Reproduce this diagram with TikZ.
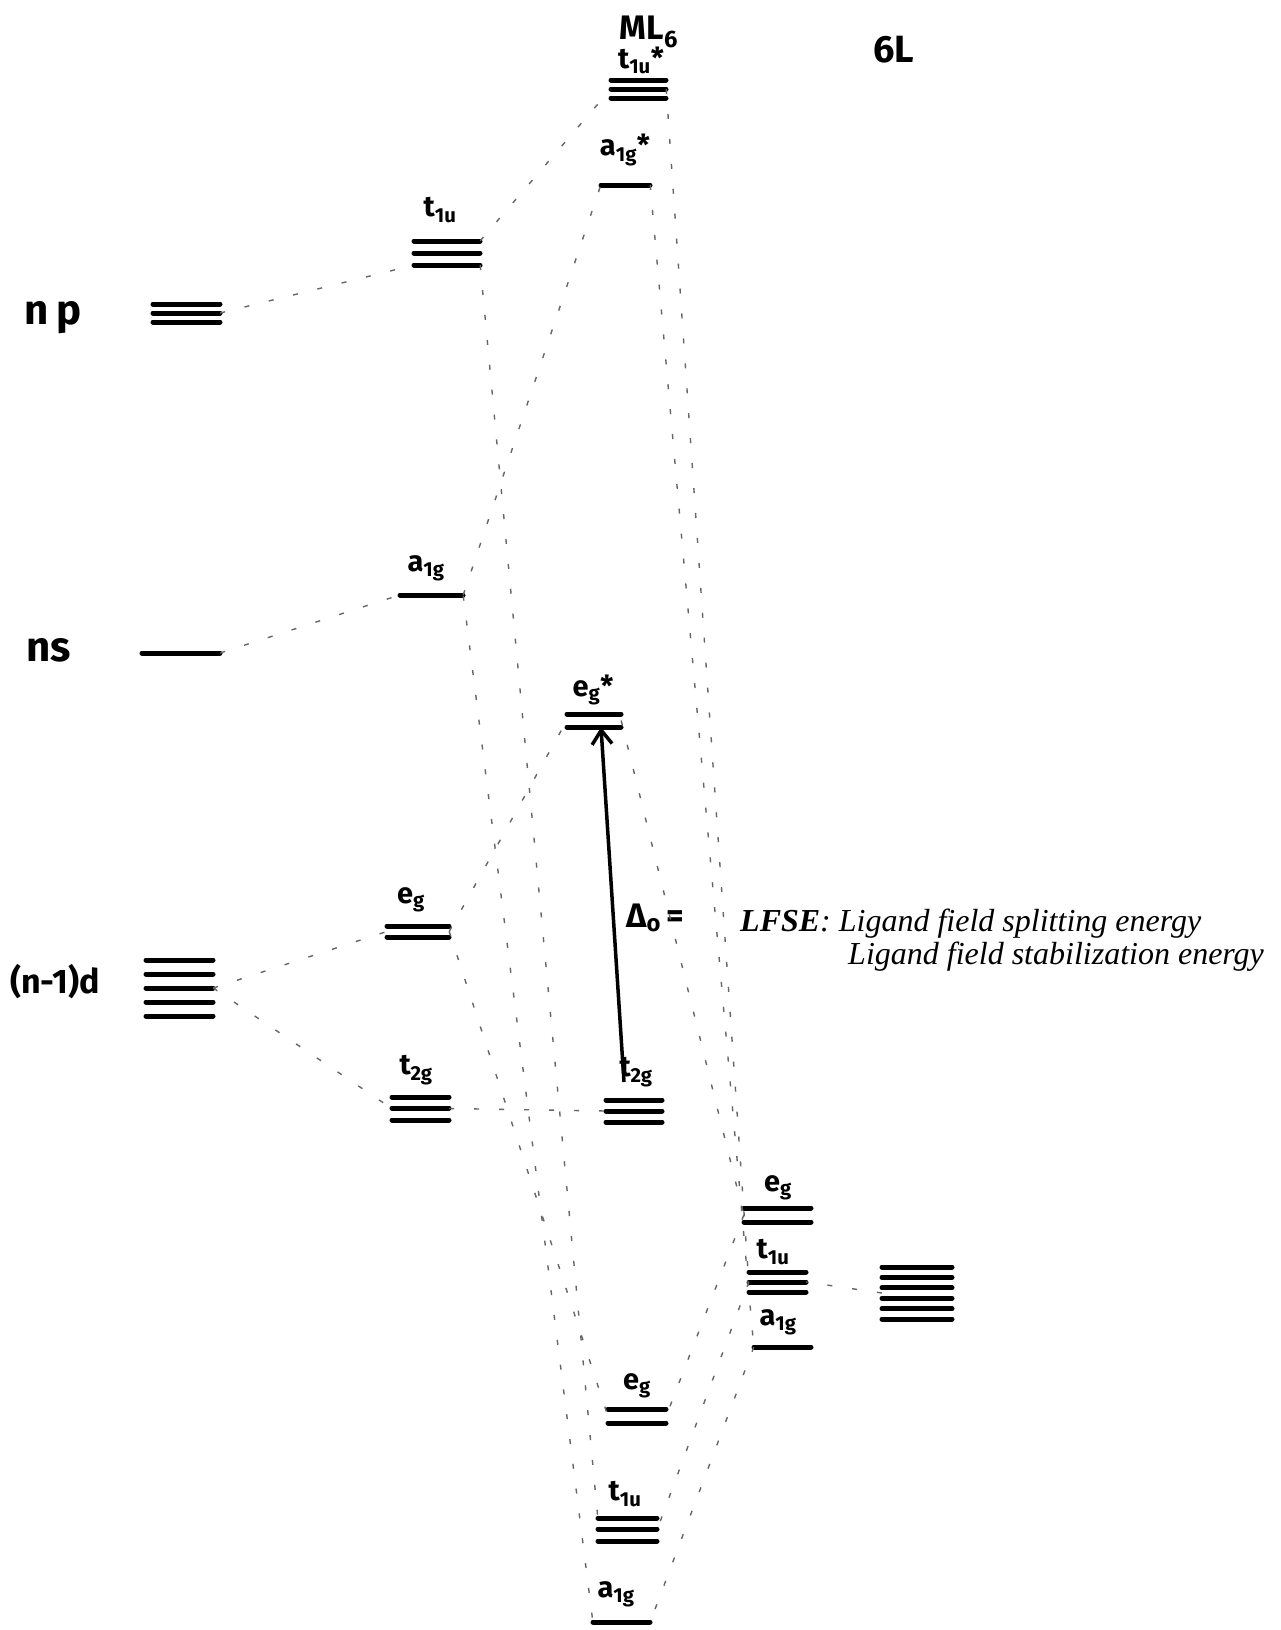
\documentclass[tikz,border=0pt]{standalone}
\usepackage{fontspec}
\setmainfont{Liberation Serif}
\newfontfamily\hand{Fira Sans}
\usetikzlibrary{arrows.meta,fit}
\tikzset{
  lvl/.style={line width=5pt, line cap=round},
  conn/.style={line width=1.4pt, black!60, dash pattern=on 5pt off 20pt},
  lab/.style={font=\hand\bfseries\fontsize{29}{31}\selectfont, inner sep=0pt},
  biglab/.style={font=\hand\bfseries\fontsize{38}{40}\selectfont, inner sep=0pt},
  grp/.style={inner sep=0pt},
  arr/.style={line width=3.5pt, -{Straight Barb[length=14pt,width=20pt,line width=3.5pt]}},
  note/.style={font=\itshape\fontsize{32}{35}\selectfont, inner sep=0pt, anchor=base west},
}
\newcommand\lev[6]{%
  \foreach \yy in {#6}{\draw[lvl] (#2,\yy) -- (#3,\yy);}
  \node[grp, fit={(#2,#4) (#3,#5)}] (#1) {};
}
\begin{document}
\begin{tikzpicture}[x=1pt,y=-1pt]
\fill[white] (0,0) rectangle (1281,1630);
\useasboundingbox (0,0) rectangle (1281,1630);

% metal AO levels
\lev{np}{153}{220}{304}{322}{304,313,322}
\lev{ns}{142}{220}{653}{653}{653}
\lev{dd}{146}{213}{960}{1016}{960,974,988,1002,1016}
% metal symmetry levels
\lev{t1uM}{414}{480}{241}{265}{241,253,265}
\lev{a1gM}{400}{463}{595}{595}{595}
\lev{egM}{387}{449}{926}{937}{926,937}
\lev{t2gM}{392}{449}{1097}{1120}{1097,1108,1120}
% MO levels
\lev{t1uS}{611}{666}{80}{98}{80,89,98}
\lev{a1gS}{601}{650}{185}{185}{185}
\lev{egS}{567}{621}{714}{727}{714,727}
\lev{t2g}{606}{662}{1100}{1122}{1100,1111,1122}
\lev{egB}{608}{666}{1409}{1423}{1409,1423}
\lev{t1uB}{598}{657}{1518}{1541}{1518,1529,1541}
\lev{a1gB}{593}{650}{1622}{1622}{1622}
% ligand SALC levels
\lev{egL}{744}{811}{1208}{1222}{1208,1222}
\lev{t1uL}{749}{806}{1272}{1292}{1272,1282,1292}
\lev{a1gL}{754}{811}{1347}{1347}{1347}
\lev{sixL}{882}{952}{1267}{1319}{1267,1277.4,1287.8,1298.2,1308.6,1319}

% labels
\node[biglab, font=\hand\bfseries\fontsize{34}{36}\selectfont] (lML) at (649,32) {ML\textsubscript{6}};
\node[biglab] (l6L) at (894,50) {6L};
\node[biglab, font=\hand\bfseries\fontsize{42}{44}\selectfont] (lnp) at (53,318) {n\,p};
\node[biglab, font=\hand\bfseries\fontsize{42}{44}\selectfont] (lns) at (49,650) {ns};
\node[biglab, font=\hand\bfseries\fontsize{34}{36}\selectfont] (ld) at (55,982) {(n-1)d};
\node[lab] (lt1uS) at (641,60) {t\textsubscript{1u}*};
\node[lab] (la1gS) at (625,150) {a\textsubscript{1g}*};
\node[lab] (lt1uM) at (440,210) {t\textsubscript{1u}};
\node[lab] (la1gM) at (426,568) {a\textsubscript{1g}};
\node[lab] (legS) at (593,690) {e\textsubscript{g}*};
\node[lab] (legM) at (411,900) {e\textsubscript{g}};
\node[lab] (lt2gM) at (416,1070) {t\textsubscript{2g}};
\node[lab] (lt2g) at (636,1072) {t\textsubscript{2g}};
\node[lab] (legL) at (778,1188) {e\textsubscript{g}};
\node[lab] (lt1uL) at (773,1252) {t\textsubscript{1u}};
\node[lab] (la1gL) at (778,1322) {a\textsubscript{1g}};
\node[lab] (legB) at (637,1386) {e\textsubscript{g}};
\node[lab] (lt1uB) at (625,1494) {t\textsubscript{1u}};
\node[lab] (la1gB) at (616,1594) {a\textsubscript{1g}};
\node[lab, anchor=west, font=\hand\bfseries\fontsize{34}{36}\selectfont] (ldelta) at (626,918) {Δ\textsubscript{o}\,=};

% LFSE note
\node[note] (n1) at (740,931) {\textbf{LFSE}: Ligand field splitting energy};
\node[note] (n2) at (848,964) {Ligand field stabilization energy};

% splitting arrow
\coordinate (arrtail) at (624,1082);
\draw[arr] (arrtail) -- ([xshift=7pt]egS.south);

% connectors
\draw[conn] (np.east) -- (t1uM.south west);
\draw[conn] (t1uM.north east) -- (t1uS.west);
\draw[conn] (t1uM.south east) -- (t1uB.north west);
\draw[conn] (ns.east) -- (a1gM.west);
\draw[conn] (a1gM.east) -- (a1gS.west);
\draw[conn] (a1gM.south east) -- (a1gB.north west);
\draw[conn] (dd.east) -- (egM.west);
\draw[conn] (dd.east) -- (t2gM.west);
\draw[conn] (egM.east) -- (egS.west);
\draw[conn] (egM.east) -- (egB.west);
\draw[conn] (t2gM.east) -- (t2g.west);
\draw[conn] (egS.east) -- (egL.west);
\draw[conn] (a1gS.east) -- (a1gL.west);
\draw[conn] (t1uS.east) -- (t1uL.west);
\draw[conn] (egL.west) -- (egB.east);
\draw[conn] (t1uL.west) -- (t1uB.east);
\draw[conn] (a1gL.west) -- (a1gB.east);
\draw[conn] (sixL.west) -- (t1uL.east);
\end{tikzpicture}
\end{document}
